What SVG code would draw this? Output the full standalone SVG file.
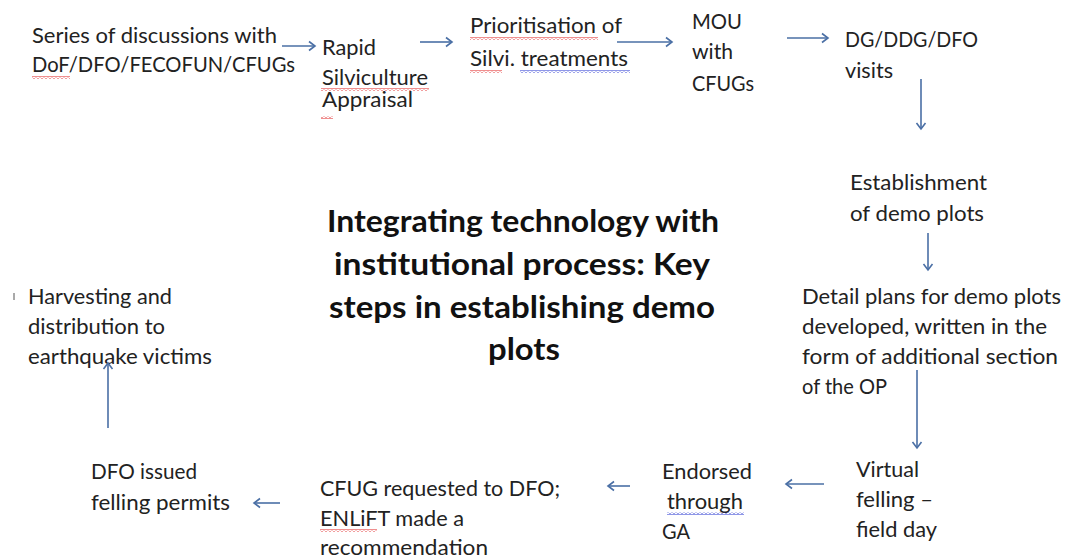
<svg xmlns="http://www.w3.org/2000/svg" width="1066" height="558" viewBox="0 0 1066 558">
  <style>
    .t { font-family: Lato, "Open Sans", "Liberation Sans", sans-serif; font-size: 20.5px; fill: #222; }
    .title { font-family: Lato, "Open Sans", "Liberation Sans", sans-serif; font-size: 31px; font-weight: bold; fill: #111; text-anchor: middle; }
    .c { stroke: #4a6fa5; stroke-width: 1.6; fill: none; marker-end: url(#arr); }
  </style>
  <defs>
    <marker id="arr" markerUnits="userSpaceOnUse" markerWidth="12" markerHeight="12" refX="9" refY="6" orient="auto">
      <path d="M3,1.5 L9,6 L3,10.5" fill="none" stroke="#4a6fa5" stroke-width="1.6"/>
    </marker>
    <pattern id="sqRed" patternUnits="userSpaceOnUse" width="4" height="3">
      <polyline points="0,2.5 2,0.5 4,2.5" fill="none" stroke="#e02020" stroke-width="1"/>
    </pattern>
    <pattern id="sqBlue" patternUnits="userSpaceOnUse" width="4" height="3">
      <polyline points="0,2.5 2,0.5 4,2.5" fill="none" stroke="#2030d0" stroke-width="1"/>
    </pattern>
  </defs>
  <rect width="1066" height="558" fill="#fff"/>

  <!-- title -->
  <g id="title">
    <text class="title" x="523" y="232" textLength="392" lengthAdjust="spacingAndGlyphs">Integrating technology with</text>
    <text class="title" x="522" y="275" textLength="376" lengthAdjust="spacingAndGlyphs">institutional process: Key</text>
    <text class="title" x="522" y="318" textLength="386" lengthAdjust="spacingAndGlyphs">steps in establishing demo</text>
    <text class="title" x="524" y="360" textLength="72" lengthAdjust="spacingAndGlyphs">plots</text>
  </g>

  <!-- process steps -->
  <g id="n1">
    <text class="t" x="32" y="43" textLength="245" lengthAdjust="spacingAndGlyphs">Series of discussions with</text>
    <text class="t" x="32" y="72" textLength="263" lengthAdjust="spacingAndGlyphs">DoF/DFO/FECOFUN/CFUGs</text>
    <rect x="32" y="76" width="38" height="3" fill="url(#sqRed)"/>
  </g>
  <g id="n2">
    <text class="t" x="322" y="55" textLength="54" lengthAdjust="spacingAndGlyphs">Rapid</text>
    <text class="t" x="322" y="85" textLength="106" lengthAdjust="spacingAndGlyphs">Silviculture</text>
    <text class="t" x="322" y="107" textLength="91" lengthAdjust="spacingAndGlyphs">Appraisal</text>
    <rect x="321" y="88" width="108" height="3" fill="url(#sqRed)"/>
    <rect x="321" y="116" width="12" height="3" fill="url(#sqRed)"/>
  </g>
  <g id="n3">
    <text class="t" x="470" y="33" textLength="152" lengthAdjust="spacingAndGlyphs">Prioritisation of</text>
    <text class="t" x="470" y="66" textLength="158" lengthAdjust="spacingAndGlyphs">Silvi. treatments</text>
    <rect x="470" y="37" width="128" height="3" fill="url(#sqRed)"/>
    <rect x="470" y="70" width="32" height="3" fill="url(#sqRed)"/>
    <rect x="520" y="70" width="110" height="3" fill="url(#sqBlue)"/>
  </g>
  <g id="n4">
    <text class="t" x="692" y="29" textLength="50" lengthAdjust="spacingAndGlyphs">MOU</text>
    <text class="t" x="692" y="59" textLength="41" lengthAdjust="spacingAndGlyphs">with</text>
    <text class="t" x="692" y="91" textLength="62" lengthAdjust="spacingAndGlyphs">CFUGs</text>
  </g>
  <g id="n5">
    <text class="t" x="845" y="47" textLength="133" lengthAdjust="spacingAndGlyphs">DG/DDG/DFO</text>
    <text class="t" x="845" y="78" textLength="48" lengthAdjust="spacingAndGlyphs">visits</text>
  </g>
  <g id="n6">
    <text class="t" x="850" y="190" textLength="137" lengthAdjust="spacingAndGlyphs">Establishment</text>
    <text class="t" x="850" y="221" textLength="134" lengthAdjust="spacingAndGlyphs">of demo plots</text>
  </g>
  <g id="n7">
    <text class="t" x="802" y="304" textLength="259" lengthAdjust="spacingAndGlyphs">Detail plans for demo plots</text>
    <text class="t" x="802" y="334" textLength="245" lengthAdjust="spacingAndGlyphs">developed, written in the</text>
    <text class="t" x="802" y="364" textLength="256" lengthAdjust="spacingAndGlyphs">form of additional section</text>
    <text class="t" x="802" y="394" textLength="85" lengthAdjust="spacingAndGlyphs">of the OP</text>
  </g>
  <g id="n8">
    <text class="t" x="856" y="477" textLength="63" lengthAdjust="spacingAndGlyphs">Virtual</text>
    <text class="t" x="856" y="507" textLength="77" lengthAdjust="spacingAndGlyphs">felling –</text>
    <text class="t" x="856" y="537" textLength="81" lengthAdjust="spacingAndGlyphs">field day</text>
  </g>
  <g id="n9">
    <text class="t" x="662" y="479" textLength="90" lengthAdjust="spacingAndGlyphs">Endorsed</text>
    <text class="t" x="667" y="509" textLength="76" lengthAdjust="spacingAndGlyphs">through</text>
    <text class="t" x="662" y="539" textLength="28" lengthAdjust="spacingAndGlyphs">GA</text>
    <rect x="667" y="512" width="77" height="3" fill="url(#sqBlue)"/>
  </g>
  <g id="n10">
    <text class="t" x="320" y="496" textLength="240" lengthAdjust="spacingAndGlyphs">CFUG requested to DFO;</text>
    <text class="t" x="320" y="526" textLength="144" lengthAdjust="spacingAndGlyphs">ENLiFT made a</text>
    <text class="t" x="320" y="555" textLength="168" lengthAdjust="spacingAndGlyphs">recommendation</text>
    <rect x="320" y="529" width="57" height="3" fill="url(#sqRed)"/>
  </g>
  <g id="n11">
    <text class="t" x="91" y="479" textLength="106" lengthAdjust="spacingAndGlyphs">DFO issued</text>
    <text class="t" x="91" y="510" textLength="139" lengthAdjust="spacingAndGlyphs">felling permits</text>
  </g>
  <g id="n12">
    <line x1="14" y1="293" x2="14" y2="300" stroke="#555" stroke-width="1"/>
    <text class="t" x="28" y="304" textLength="144" lengthAdjust="spacingAndGlyphs">Harvesting and</text>
    <text class="t" x="28" y="334" textLength="137" lengthAdjust="spacingAndGlyphs">distribution to</text>
    <text class="t" x="28" y="364" textLength="184" lengthAdjust="spacingAndGlyphs">earthquake victims</text>
  </g>

  <!-- connectors -->
  <g id="connectors">
    <line class="c" x1="282" y1="46" x2="315" y2="46"/>
    <line class="c" x1="420" y1="42" x2="452" y2="42"/>
    <line class="c" x1="617" y1="42" x2="672" y2="42"/>
    <line class="c" x1="787" y1="38" x2="828" y2="38"/>
    <line class="c" x1="921" y1="79" x2="921" y2="129"/>
    <line class="c" x1="928" y1="233" x2="928" y2="270"/>
    <line class="c" x1="917" y1="370" x2="917" y2="448"/>
    <line class="c" x1="824" y1="484" x2="786" y2="484"/>
    <line class="c" x1="630" y1="486" x2="608" y2="486"/>
    <line class="c" x1="280" y1="503" x2="254" y2="503"/>
    <line class="c" x1="108" y1="428" x2="108" y2="363"/>
  </g>
</svg>
